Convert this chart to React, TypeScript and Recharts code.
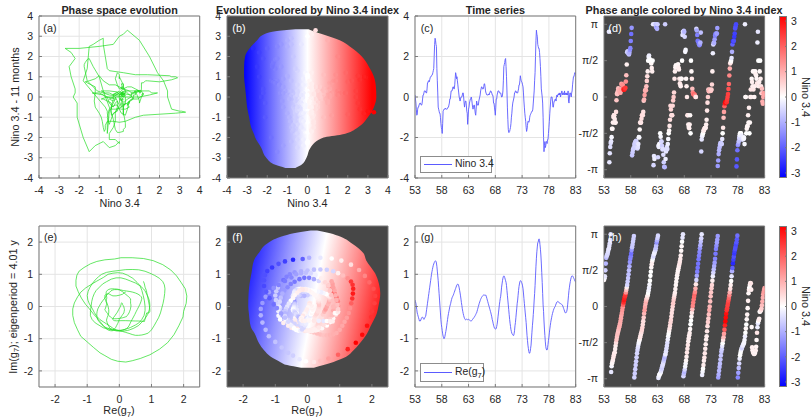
import React from 'react';
import { ComposedChart, Line, Scatter, Area, XAxis, YAxis, CartesianGrid } from 'recharts';

const FONT = '"Liberation Sans", Arial, Helvetica, sans-serif';
const TXT = '#262626';
const DARK = '#474747';
const AXC = '#7a7a7a';
const GRID = '#e4e4e4';
const GREEN = '#22dd22';
const BLUE = '#5b5bff';
const TRAJ = '#1d4d1d';

// ---- Nino 3.4 index, monthly, 1953.0 .. 1983.0
const nino1953: number[] = [
  0.1, -0.1, -0.3, -0.6, -0.9, -0.85, -0.6, -0.5, -0.5, -0.4, -0.35, -0.3,
  -0.3, -0.35, -0.4, -0.4, -0.3, -0.1, 0.1, 0.1, 0.2, 0.3, 0.3, 0.3,
  0.25, 0.2, 0.2, 0.4, 0.7, 0.7, 0.8, 0.8, 0.75, 0.85, 0.95, 1.0,
  1.0, 1.05, 1.1, 1.1, 1.2, 1.3, 1.4, 2.0, 2.6, 2.9, 2.8, 2.6,
  2.5, 1.4, 0.8, 0.2, -0.5, -0.6, -0.7, -0.8, -0.8, -1.0, -1.3, -1.5,
  -1.6, -1.8, -1.3, -0.7, -0.65, -0.6, -0.6, -0.6, -0.55, -0.6, -0.6, -0.6,
  -0.6, -0.55, -0.5, -0.5, -0.4, -0.3, -0.1, -0.1, 0.1, 0.3, 0.3, 0.3,
  0.4, 0.5, 0.5, 0.4, 0.4, 0.6, 0.9, 1.2, 1.1, 0.9, 1.0, 0.8,
  0.6, 0.4, 0.2, 0.0, -0.1, -0.2, -0.1, 0.0, 0.0, 0.0, 0.1, 0.2,
  0.2, 0.0, -0.3, -0.5, -0.3, -0.2, -0.2, -0.4, -0.7, -0.8, -1.35, -1.0,
];
const nino1963: number[] = [
  -0.6, -0.5, -0.3, -0.2, -0.1, -0.1, 0.0, -0.1, -0.3, -0.5, -0.6, -0.5,
  -0.4, -0.4, -0.6, -0.8, -0.9, -0.6, -0.2, -0.3, -0.4, -0.4, -0.4, -0.2,
  -0.1, 0.0, 0.1, 0.3, 0.4, 0.5, 0.5, 0.4, 0.4, 0.4, 0.5, 0.65,
  0.65, 0.5, 0.3, 0.2, 0.15, 0.1, 0.1, 0.1, 0.1, 0.15, 0.1, 0.2,
  0.2, 0.3, 0.3, 0.25, 0.2, 0.1, 0.1, 0.0, -0.3, -0.3, -0.5, -0.7,
  -0.9, -0.5, -0.1, -0.1, 0.1, 0.2, 0.3, 0.3, 0.3, 0.2, 0.2, 0.2,
  0.2, 0.1, 0.0, 0.0, 0.1, 0.3, 0.8, 1.5, 1.6, 1.7, 1.85, 1.9,
  1.5, 1.0, 0.3, -0.5, -1.1, -1.6, -1.75, -1.75, -1.7, -1.6, -1.5, -1.3,
  -1.0, -0.8, -0.5, -0.3, -0.2, -0.1, 0.0, 0.2, 0.2, 0.3, 0.3, 0.25,
  0.2, 0.2, 0.2, 0.3, 0.4, 0.6, 0.6, 0.8, 1.05, 0.9, 0.8, 0.75,
];
const nino1973: number[] = [
  0.7, 0.6, 0.5, 0.2, -0.2, -0.5, -0.8, -1.0, -1.2, -1.5, -1.7, -1.6,
  -1.4, -1.2, -1.2, -1.25, -1.2, -1.0, -0.9, -0.85, -0.8, -0.75, -0.7, -0.7,
  -0.6, -0.3, 0.0, 0.3, 0.8, 1.2, 2.0, 2.8, 3.3, 3.1, 3.0, 2.6,
  2.5, 2.4, 2.4, 2.2, 1.9, 1.5, 1.0, 0.4, 0.2, 0.0, -0.3, -1.0,
  -2.0, -2.7, -2.4, -2.2, -2.5, -2.4, -2.2, -2.2, -2.3, -2.1, -2.1, -1.8,
  -1.5, -1.2, -0.8, -0.5, -0.2, 0.0, 0.0, 0.0, -0.2, -0.5, -0.5, -0.3,
  -0.2, -0.2, -0.1, -0.1, -0.2, 0.0, 0.1, 0.0, 0.1, 0.15, 0.1, 0.2,
  0.1, 0.2, 0.0, 0.1, 0.2, 0.3, 0.2, 0.1, 0.2, 0.2, 0.1, 0.3,
  0.1, 0.15, 0.2, 0.1, 0.2, 0.15, 0.1, 0.3, -0.2, -0.3, 0.0, 0.2,
  0.2, 0.1, 0.0, 0.2, 0.3, 0.6, 0.8, 1.0, 1.0, 1.1, 1.2, 1.2,
  1.1,
];

// ---- Re(g7), monthly, 1953.0 .. 1983.0
const re1953: number[] = [
  0.2, 0.15, 0.1, 0.0, -0.1, -0.2, -0.25, -0.3, -0.35, -0.4, -0.45, -0.45,
  -0.45, -0.42, -0.38, -0.35, -0.33, -0.33, -0.35, -0.38, -0.4, -0.38, -0.35, -0.32,
  -0.3, -0.2, -0.1, 0.0, 0.1, 0.2, 0.3, 0.4, 0.5, 0.6, 0.7, 0.8,
  0.9, 1.0, 1.08, 1.15, 1.22, 1.28, 1.32, 1.36, 1.39, 1.41, 1.42, 1.4,
  1.35, 1.25, 1.1, 0.95, 0.8, 0.6, 0.4, 0.2, 0.0, -0.2, -0.4, -0.55,
  -0.65, -0.75, -0.85, -0.92, -0.97, -1.0, -0.98, -0.93, -0.85, -0.78, -0.7, -0.6,
  -0.5, -0.4, -0.3, -0.22, -0.15, -0.08, 0.0, 0.05, 0.1, 0.17, 0.22, 0.27,
  0.3, 0.33, 0.36, 0.4, 0.44, 0.48, 0.52, 0.56, 0.6, 0.64, 0.67, 0.69,
  0.7, 0.68, 0.64, 0.58, 0.5, 0.42, 0.33, 0.23, 0.12, 0.03, -0.07, -0.15,
  -0.22, -0.28, -0.33, -0.37, -0.4, -0.41, -0.41, -0.4, -0.39, -0.4, -0.41, -0.4,
];
const re1963: number[] = [
  -0.4, -0.41, -0.42, -0.43, -0.44, -0.45, -0.45, -0.44, -0.42, -0.4, -0.38, -0.36,
  -0.35, -0.33, -0.3, -0.28, -0.25, -0.22, -0.2, -0.15, -0.1, -0.05, 0.0, 0.05,
  0.1, 0.14, 0.18, 0.22, 0.25, 0.28, 0.3, 0.32, 0.34, 0.35, 0.36, 0.36,
  0.35, 0.35, 0.35, 0.35, 0.3, 0.25, 0.2, 0.15, 0.1, 0.05, 0.0, -0.05,
  -0.1, -0.15, -0.2, -0.26, -0.32, -0.4, -0.45, -0.52, -0.58, -0.63, -0.67, -0.69,
  -0.7, -0.7, -0.68, -0.62, -0.55, -0.45, -0.32, -0.2, -0.08, 0.05, 0.15, 0.25,
  0.32, 0.45, 0.6, 0.7, 0.8, 0.88, 0.93, 0.95, 0.94, 0.9, 0.85, 0.8,
  0.75, 0.65, 0.5, 0.35, 0.2, 0.05, -0.1, -0.25, -0.4, -0.52, -0.62, -0.72,
  -0.78, -0.83, -0.86, -0.88, -0.9, -0.9, -0.85, -0.75, -0.6, -0.5, -0.35, -0.2,
  -0.05, 0.1, 0.2, 0.35, 0.5, 0.62, 0.7, 0.77, 0.8, 0.8, 0.78, 0.74,
];
const re1973: number[] = [
  0.7, 0.64, 0.55, 0.42, 0.25, 0.1, -0.05, -0.2, -0.35, -0.5, -0.7, -0.9,
  -1.05, -1.2, -1.3, -1.4, -1.45, -1.45, -1.4, -1.3, -1.2, -1.0, -0.8, -0.6,
  -0.45, -0.25, -0.05, 0.2, 0.4, 0.65, 0.95, 1.25, 1.5, 1.7, 1.85, 1.98,
  2.0, 2.08, 2.1, 2.05, 1.92, 1.78, 1.6, 1.35, 1.05, 0.75, 0.4, 0.05,
  -0.15, -0.45, -0.7, -0.9, -1.1, -1.25, -1.32, -1.35, -1.35, -1.28, -1.18, -1.05,
  -0.95, -0.82, -0.7, -0.6, -0.5, -0.42, -0.35, -0.28, -0.22, -0.17, -0.12, -0.08,
  -0.05, -0.02, 0.0, 0.04, 0.08, 0.11, 0.14, 0.15, 0.16, 0.15, 0.14, 0.12,
  0.1, 0.1, 0.09, 0.08, 0.07, 0.06, 0.05, 0.02, -0.02, -0.06, -0.1, -0.14,
  -0.18, -0.2, -0.2, -0.18, -0.15, -0.08, 0.05, 0.2, 0.35, 0.5, 0.6, 0.7,
  0.78, 0.85, 0.9, 0.94, 0.95, 0.95, 0.93, 0.9, 0.87, 0.84, 0.8, 0.78,
  0.75,
];

// ---- outline of the point cloud in panel (b): [left, right] Nino 3.4 at each lagged level
const blobBY = [-3.5, -3.35, -3.0, -2.5, -2.0, -1.85, -1.5, -1.0, -0.5, 0, 0.5, 1.0, 1.5, 2.0, 2.5, 2.8, 3.05, 3.25, 3.35];
const blobBLo = [-1.1, -1.6, -2.05, -2.3, -2.6, -2.65, -2.8, -2.9, -3.0, -3.05, -3.1, -3.15, -3.15, -3.1, -2.8, -2.5, -2.25, -1.6, -0.6];
const blobBHi = [-0.6, -0.3, -0.05, 0.15, 0.8, 1.7, 2.5, 3.0, 3.3, 3.42, 3.4, 3.3, 3.05, 2.7, 2.1, 1.6, 0.9, 0.3, 0.05];

// ---- outline of the point cloud in panel (f)
const blobFY = [-1.9, -1.82, -1.72, -1.56, -1.36, -1.15, -0.84, -0.63, -0.22, 0, 0.4, 0.7, 1.03, 1.44, 1.65, 1.96, 2.2, 2.3, 2.36];
const blobFLo = [-0.2, -0.63, -0.85, -1.14, -1.35, -1.5, -1.64, -1.76, -1.82, -1.84, -1.83, -1.8, -1.74, -1.66, -1.52, -1.25, -0.73, -0.3, 0.1];
const blobFHi = [0.2, 0.5, 0.81, 1.2, 1.43, 1.62, 1.85, 1.95, 2.15, 2.2, 2.26, 2.22, 2.1, 1.82, 1.74, 1.38, 0.95, 0.6, 0.3];
const gradFStops = [-2.7, -1.3, 0, 1.4, 2.9];

// ---- ticks
const xTicks4 = [-4, -3, -2, -1, 0, 1, 2, 3, 4];
const timeTicks = [53, 58, 63, 68, 73, 78, 83];
const ninoTicks = [-4, -2, 0, 2, 4];
const gTicks = [-2, -1, 0, 1, 2];
const phaseTicks = [-Math.PI, -Math.PI / 2, 0, Math.PI / 2, Math.PI];
const phaseLabels = ['-π', '-π/2', '0', 'π/2', 'π'];
const cbTicks = [-3, -2, -1, 0, 1, 2, 3];

const T0 = 53;
const LAG = 11;
const QTR = 12;
const CMAX = 3.2;

const nino34 = [...nino1953, ...nino1963, ...nino1973];
const reG7 = [...re1953, ...re1963, ...re1973];

const ninoSeries = nino34.map((v, i) => ({ x: T0 + i / 12, y: v }));
const reSeries = reG7.map((v, i) => ({ x: T0 + i / 12, y: v }));
const lagPts = nino34.slice(LAG).map((v, k) => ({ x: v, y: nino34[k], c: v }));
const phaseA = lagPts.map((p, k) => ({ x: T0 + (k + LAG) / 12, y: Math.atan2(p.y, p.x), c: p.c }));
const imG7 = reG7.map((_, i) => {
  const back = i >= QTR ? reG7[i - QTR] : null;
  const fwd = i + QTR < reG7.length ? -reG7[i + QTR] : null;
  if (back !== null && fwd !== null) return (back + fwd) / 2;
  return back !== null ? back : (fwd as number);
});
const gPts = reG7.map((v, i) => ({ x: v, y: imG7[i], c: nino34[i] }));
const phaseG = gPts.map((p, i) => ({ x: T0 + i / 12, y: Math.atan2(p.y, p.x), c: p.c }));
const blobB = blobBY.map((y, i) => ({ y, r: [blobBLo[i], blobBHi[i]] }));
const blobF = blobFY.map((y, i) => ({ y, r: [blobFLo[i], blobFHi[i]] }));
const cbRows = [{ y: -CMAX, r: [0, 1] }, { y: CMAX, r: [0, 1] }];

function cmap(v: number) {
  const t = Math.max(-1, Math.min(1, v / CMAX));
  if (t < 0) {
    const k = Math.round(255 * (1 + t));
    return `rgb(${k},${k},255)`;
  }
  const k = Math.round(255 * (1 - t));
  return `rgb(255,${k},${k})`;
}

const makeDot = (r: number) => (props: any) => {
  const { cx, cy, payload } = props;
  if (cx == null || cy == null || !isFinite(cx) || !isFinite(cy)) return <g />;
  return <circle cx={cx} cy={cy} r={r} fill={cmap(payload.c)} />;
};
const dot23 = makeDot(2.3);

const COLX = [39.3, 226.7, 415, 603.7];
const COLW = [160.7, 161, 160.7, 160.6];
const ROWY = [16, 225.7];
const ROWH = [162, 161];
const CBX = 779;
const CBW = 8;

const WL = 34, HB = 22, MT = 10, MR = 8;
const tickStyle = { fontSize: 10.5, fill: TXT, fontFamily: FONT };

function Frame(props: any) {
  const { c, r, xDomain, xTicks, yDomain, yTicks, yFmt, dark, data, children } = props;
  const x = COLX[c], y = ROWY[r], w = COLW[c], h = ROWH[r];
  const W = w + WL + MR + 1;
  const H = h + MT + 1 + HB;
  return (
    <div style={{ position: 'absolute', left: x - WL, top: y - MT - 1 }}>
      <ComposedChart width={W} height={H} data={data} margin={{ top: MT, right: MR, bottom: 0, left: 0 }}>
        <CartesianGrid
          fill={dark ? DARK : '#ffffff'}
          fillOpacity={1}
          stroke={dark ? 'none' : GRID}
          horizontal={!dark}
          vertical={!dark}
        />
        <XAxis
          type="number" dataKey="x" domain={xDomain} ticks={xTicks} interval={0} allowDataOverflow
          height={HB} tickSize={-3} tickMargin={12} stroke={AXC} tick={tickStyle}
        />
        <YAxis
          type="number" dataKey="y" domain={yDomain} ticks={yTicks} interval={0} allowDataOverflow
          width={WL} tickSize={-3} tickMargin={9} stroke={AXC} tick={tickStyle} tickFormatter={yFmt}
        />
        <XAxis
          xAxisId="top" orientation="top" type="number" domain={xDomain} ticks={xTicks} interval={0}
          allowDataOverflow height={1} tickSize={-3} tick={false} stroke={AXC}
        />
        <YAxis
          yAxisId="right" orientation="right" type="number" domain={yDomain} ticks={yTicks} interval={0}
          allowDataOverflow width={1} tickSize={-3} tick={false} stroke={AXC}
        />
        {children}
      </ComposedChart>
    </div>
  );
}

function Overlay(props: any) {
  const { c, r, xDomain, yDomain, layout, data, children } = props;
  const x = COLX[c], y = ROWY[r], w = COLW[c], h = ROWH[r];
  const vertical = layout === 'vertical';
  return (
    <div style={{ position: 'absolute', left: x, top: y }}>
      <ComposedChart width={w} height={h} data={data} layout={vertical ? 'vertical' : 'horizontal'} margin={{ top: 0, right: 0, bottom: 0, left: 0 }}>
        {vertical ? (
          <XAxis type="number" domain={xDomain} hide allowDataOverflow />
        ) : (
          <XAxis type="number" dataKey="x" domain={xDomain} hide allowDataOverflow />
        )}
        <YAxis type="number" dataKey="y" domain={yDomain} hide allowDataOverflow reversed={vertical} />
        {children}
      </ComposedChart>
    </div>
  );
}

function ColorBar({ r, id }: { r: number; id: string }) {
  const y = ROWY[r], h = ROWH[r];
  const AW = 26;
  const PAD = 8;
  return (
    <>
      <div style={{ position: 'absolute', left: CBX, top: y - PAD }}>
        <ComposedChart width={CBW + AW} height={h + 2 * PAD} data={cbRows} layout="vertical" margin={{ top: PAD, bottom: PAD, left: 0, right: 0 }}>
          <defs>
            <linearGradient id={id} x1="0" y1="0" x2="0" y2="1">
              <stop offset="0" stopColor={cmap(CMAX)} />
              <stop offset="0.5" stopColor={cmap(0)} />
              <stop offset="1" stopColor={cmap(-CMAX)} />
            </linearGradient>
          </defs>
          <XAxis type="number" domain={[0, 1]} hide allowDataOverflow />
          <YAxis
            orientation="right" type="number" dataKey="y" domain={[-CMAX, CMAX]} ticks={cbTicks} interval={0} reversed
            allowDataOverflow width={AW} tickSize={-2} tickMargin={6} stroke={AXC} axisLine={false} tick={tickStyle}
          />
          <Area dataKey="r" type="linear" stroke="none" fill={`url(#${id})`} fillOpacity={1} isAnimationActive={false} />
        </ComposedChart>
      </div>
      <div style={{ position: 'absolute', left: CBX, top: y, width: CBW, height: h, border: `0.8px solid ${AXC}`, boxSizing: 'border-box', pointerEvents: 'none' }} />
    </>
  );
}

function Txt(props: any) {
  const { x, y, children, size = 10.8, weight = 400, color = TXT, anchor = 'middle', rotate = 0 } = props;
  const tx = anchor === 'middle' ? '-50%' : anchor === 'end' ? '-100%' : '0%';
  return (
    <div
      style={{
        position: 'absolute', left: x, top: y, fontSize: size, fontWeight: weight, color,
        whiteSpace: 'nowrap', lineHeight: 1, fontFamily: FONT,
        transform: `translate(${tx}, -50%) rotate(${rotate}deg)`,
      }}
    >
      {children}
    </div>
  );
}

const Sub = ({ children }: any) => (
  <span style={{ fontSize: '0.72em', position: 'relative', top: '0.3em' }}>{children}</span>
);

function LegendBox({ left, top, width, height, lineY, label }: any) {
  return (
    <div style={{ position: 'absolute', left, top, width, height, border: '1px solid #8c8c8c', background: '#fff', boxSizing: 'border-box' }}>
      <div style={{ position: 'absolute', left: 3, top: lineY - top - 1.5, width: 28, height: 0, borderTop: `1px solid ${BLUE}` }} />
      <div style={{ position: 'absolute', left: 34, top: lineY - top - 1, transform: 'translateY(-50%)', fontSize: 10.4, lineHeight: 1, color: TXT, fontFamily: FONT, whiteSpace: 'nowrap' }}>
        {label}
      </div>
    </div>
  );
}

function blobGradientStops(lo: number[], hi: number[]) {
  const mn = Math.min(...lo);
  const mx = Math.max(...hi);
  const vals = [-CMAX, -CMAX / 2, 0, CMAX / 2, CMAX];
  return vals.map((v) => ({ off: Math.max(0, Math.min(1, (v - mn) / (mx - mn))), col: cmap(v) }));
}

export default function App() {
  const stopsB = blobGradientStops(blobBLo, blobBHi);
  const phaseFmt = (v: number) => {
    const i = phaseTicks.findIndex((t) => Math.abs(t - v) < 1e-6);
    return i >= 0 ? phaseLabels[i] : '';
  };
  return (
    <div style={{ position: 'absolute', left: 0, top: 0, width: 812, height: 420, background: '#fff', overflow: 'hidden', fontFamily: FONT }}>
      {/* (a) */}
      <Frame c={0} r={0} xDomain={[-4, 4]} xTicks={xTicks4} yDomain={[-4, 4]} yTicks={xTicks4} data={lagPts}>
        <Line dataKey="y" stroke={GREEN} strokeWidth={0.7} dot={false} isAnimationActive={false} />
      </Frame>

      {/* (b) */}
      <Frame c={1} r={0} dark xDomain={[-4, 4]} xTicks={xTicks4} yDomain={[-4, 4]} yTicks={xTicks4} data={lagPts}>
        <Line dataKey="y" stroke={TRAJ} strokeWidth={0.8} dot={false} isAnimationActive={false} />
      </Frame>
      <Overlay c={1} r={0} layout="vertical" xDomain={[-4, 4]} yDomain={[-4, 4]} data={blobB}>
        <defs>
          <linearGradient id="gradB" x1="0" y1="0" x2="1" y2="0">
            {stopsB.map((s, i) => (
              <stop key={i} offset={s.off} stopColor={s.col} />
            ))}
          </linearGradient>
        </defs>
        <Area dataKey="r" type="monotone" stroke="none" fill="url(#gradB)" fillOpacity={1} isAnimationActive={false} />
      </Overlay>
      <Overlay c={1} r={0} xDomain={[-4, 4]} yDomain={[-4, 4]}>
        <Scatter data={lagPts} shape={dot23} isAnimationActive={false} />
      </Overlay>

      {/* (c) */}
      <Frame c={2} r={0} xDomain={[53, 83]} xTicks={timeTicks} yDomain={[-4, 4]} yTicks={ninoTicks} data={ninoSeries}>
        <Line dataKey="y" stroke={BLUE} strokeWidth={0.9} dot={false} isAnimationActive={false} />
      </Frame>

      {/* (d) */}
      <Frame c={3} r={0} dark xDomain={[53, 83]} xTicks={timeTicks} yDomain={[-3.5, 3.5]} yTicks={phaseTicks} yFmt={phaseFmt}>
        <Scatter data={phaseA} shape={dot23} isAnimationActive={false} />
      </Frame>
      <ColorBar r={0} id="cb0" />

      {/* (e) */}
      <Frame c={0} r={1} xDomain={[-2.5, 2.5]} xTicks={gTicks} yDomain={[-2.5, 2.5]} yTicks={gTicks} data={gPts}>
        <Line dataKey="y" stroke={GREEN} strokeWidth={0.7} dot={false} isAnimationActive={false} />
      </Frame>

      {/* (f) */}
      <Frame c={1} r={1} dark xDomain={[-2.5, 2.5]} xTicks={gTicks} yDomain={[-2.5, 2.5]} yTicks={gTicks} />
      <Overlay c={1} r={1} layout="vertical" xDomain={[-2.5, 2.5]} yDomain={[-2.5, 2.5]} data={blobF}>
        <defs>
          <linearGradient id="gradF" x1="0" y1="0.4" x2="1" y2="0.6">
            {gradFStops.map((v, i) => (
              <stop key={i} offset={i / (gradFStops.length - 1)} stopColor={cmap(v)} />
            ))}
          </linearGradient>
        </defs>
        <Area dataKey="r" type="monotone" stroke="none" fill="url(#gradF)" fillOpacity={1} isAnimationActive={false} />
      </Overlay>
      <Overlay c={1} r={1} xDomain={[-2.5, 2.5]} yDomain={[-2.5, 2.5]}>
        <Scatter data={gPts} shape={dot23} isAnimationActive={false} />
      </Overlay>

      {/* (g) */}
      <Frame c={2} r={1} xDomain={[53, 83]} xTicks={timeTicks} yDomain={[-2.5, 2.5]} yTicks={gTicks} data={reSeries}>
        <Line dataKey="y" stroke={BLUE} strokeWidth={0.9} dot={false} isAnimationActive={false} />
      </Frame>

      {/* (h) */}
      <Frame c={3} r={1} dark xDomain={[53, 83]} xTicks={timeTicks} yDomain={[-3.5, 3.5]} yTicks={phaseTicks} yFmt={phaseFmt}>
        <Scatter data={phaseG} shape={dot23} isAnimationActive={false} />
      </Frame>
      <ColorBar r={1} id="cb1" />

      {/* titles */}
      <Txt x={119.6} y={9.5} weight={700}>Phase space evolution</Txt>
      <Txt x={307.6} y={9.5} weight={700}>Evolution colored by Nino 3.4 index</Txt>
      <Txt x={495.4} y={9.5} weight={700}>Time series</Txt>
      <Txt x={684} y={9.5} weight={700}>Phase angle colored by Nino 3.4 index</Txt>

      {/* panel letters */}
      <Txt x={43.3} y={28.3} anchor="start">(a)</Txt>
      <Txt x={232.3} y={28.3} anchor="start" color="#ffffff">(b)</Txt>
      <Txt x={420.7} y={28.3} anchor="start">(c)</Txt>
      <Txt x={608.3} y={28.3} anchor="start" color="#ffffff">(d)</Txt>
      <Txt x={44} y={237.4} anchor="start">(e)</Txt>
      <Txt x={232.3} y={237.4} anchor="start" color="#ffffff">(f)</Txt>
      <Txt x={420.7} y={237.4} anchor="start">(g)</Txt>
      <Txt x={608.3} y={237.4} anchor="start" color="#ffffff">(h)</Txt>

      {/* axis labels */}
      <Txt x={119.7} y={202.5}>Nino 3.4</Txt>
      <Txt x={307.3} y={202.5}>Nino 3.4</Txt>
      <Txt x={119} y={410.3}>Re(g<Sub>7</Sub>)</Txt>
      <Txt x={307} y={410.3}>Re(g<Sub>7</Sub>)</Txt>
      <Txt x={15} y={97} rotate={-90}>Nino 3.4 - 11 months</Txt>
      <Txt x={13.3} y={307} rotate={-90}>Im(g<Sub>7</Sub>); eigenperiod = 4.01 y</Txt>
      <Txt x={806} y={97} rotate={90}>Nino 3.4</Txt>
      <Txt x={806} y={306} rotate={90}>Nino 3.4</Txt>

      {/* legends */}
      <LegendBox left={420} top={155.7} width={72.3} height={17} lineY={164.3} label="Nino 3.4" />
      <LegendBox left={420} top={362.7} width={64} height={19} lineY={372.3} label={<span>Re(g<Sub>7</Sub>)</span>} />
    </div>
  );
}
